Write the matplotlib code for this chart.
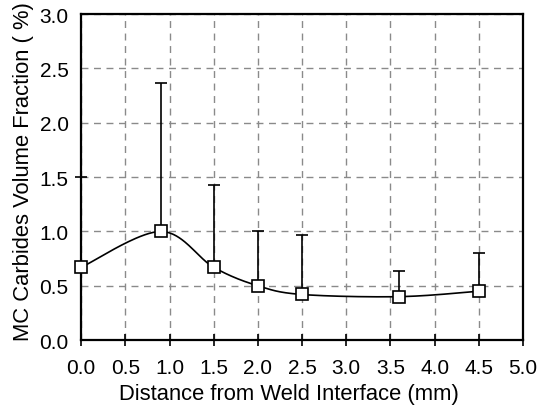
import matplotlib
matplotlib.use("Agg")
import matplotlib.pyplot as plt
import numpy as np

plt.rcParams["font.family"] = ["Liberation Sans", "DejaVu Sans"]

distance = [0.0, 0.9, 1.5, 2.0, 2.5, 3.6, 4.5]
volume_fraction = [0.67, 1.00, 0.67, 0.50, 0.42, 0.40, 0.45]
upper_limit = [1.50, 2.37, 1.43, 1.00, 0.97, 0.64, 0.80]
x_ticks = [0.0, 0.5, 1.0, 1.5, 2.0, 2.5, 3.0, 3.5, 4.0, 4.5, 5.0]
y_ticks = [0.0, 0.5, 1.0, 1.5, 2.0, 2.5, 3.0]


def smooth_line(x, y, n=40, t=1 / 6):
    # Excel-like smoothed line: cubic Bezier segments with Catmull-Rom handles
    x = np.asarray(x, float)
    y = np.asarray(y, float)
    xs, ys = [], []
    for i in range(len(x) - 1):
        p0 = np.array([x[max(i - 1, 0)], y[max(i - 1, 0)]])
        p1 = np.array([x[i], y[i]])
        p2 = np.array([x[i + 1], y[i + 1]])
        p3 = np.array([x[min(i + 2, len(x) - 1)], y[min(i + 2, len(x) - 1)]])
        c1 = p1 + (p2 - p0) * t
        c2 = p2 - (p3 - p1) * t
        s = np.linspace(0, 1, n)[:, None]
        b = ((1 - s) ** 3) * p1 + 3 * ((1 - s) ** 2) * s * c1 + 3 * (1 - s) * s ** 2 * c2 + s ** 3 * p2
        xs.extend(b[:, 0])
        ys.extend(b[:, 1])
    return xs, ys


fig, ax = plt.subplots(figsize=(5.38, 4.10), dpi=100)
fig.subplots_adjust(left=0.151, right=0.972, top=0.963, bottom=0.168)

ax.grid(True, color="#8a8a8a", linestyle=(0, (5, 4)), linewidth=1.0)
ax.set_axisbelow(True)

sx, sy = smooth_line(distance, volume_fraction)
ax.plot(sx, sy, color="black", linewidth=1.2, zorder=3)

yerr_up = np.array(upper_limit) - np.array(volume_fraction)
ax.errorbar(distance, volume_fraction, yerr=[np.zeros(len(distance)), yerr_up],
            fmt="none", ecolor="black", elinewidth=1.2, capsize=4, capthick=1.2,
            zorder=3, clip_on=False)
ax.plot(distance, volume_fraction, linestyle="none", marker="s", markersize=8,
        markerfacecolor="white", markeredgecolor="black", markeredgewidth=1.2,
        zorder=4, clip_on=False)

ax.set_xlim(0, 5)
ax.set_ylim(0, 3)
ax.set_xticks(x_ticks)
ax.set_yticks(y_ticks)
ax.set_xticklabels([f"{v:.1f}" for v in x_ticks])
ax.set_yticklabels([f"{v:.1f}" for v in y_ticks])
ax.tick_params(axis="x", direction="inout", length=8, width=1.2, labelsize=15, pad=9)
ax.tick_params(axis="y", length=0, labelsize=15, pad=9)

for sp in ax.spines.values():
    sp.set_linewidth(1.6)

ax.set_xlabel("Distance from Weld Interface (mm)", fontsize=15.8, labelpad=4)
ax.set_ylabel("MC Carbides Volume Fraction ( %)", fontsize=15.8, labelpad=4)
ax.xaxis.label.set_x(0.47)
ax.yaxis.label.set_y(0.52)

fig.savefig("out.png", dpi=100)
